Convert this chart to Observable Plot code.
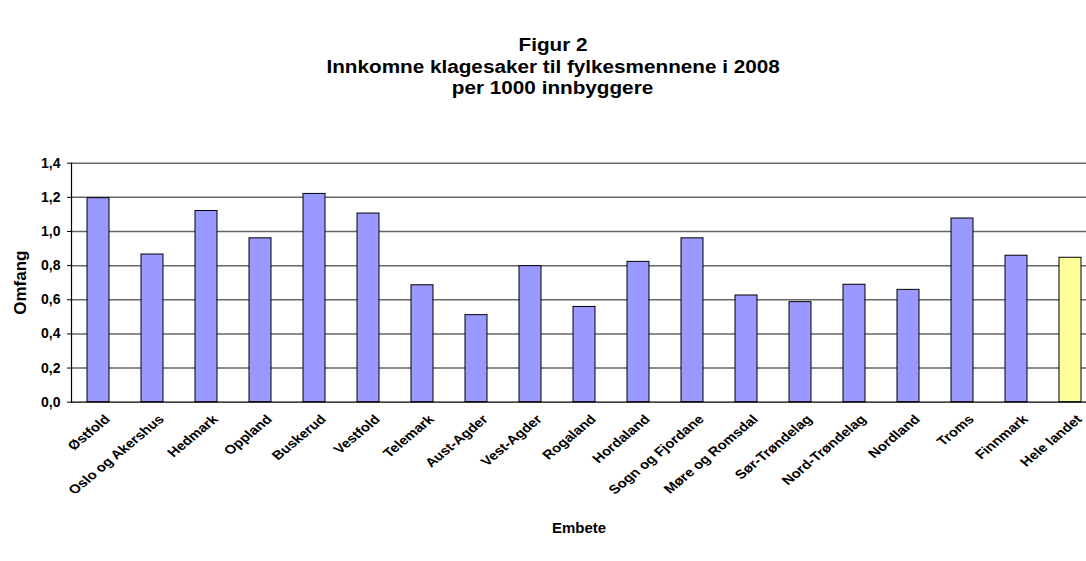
<!DOCTYPE html>
<html>
<head>
<meta charset="utf-8">
<script src="https://cdn.jsdelivr.net/npm/d3@7"></script>
<script src="https://cdn.jsdelivr.net/npm/@observablehq/plot@0.6"></script>
<style>
  html, body { margin: 0; padding: 0; background: #fff; overflow: hidden; }
  body { font-family: "Liberation Sans", Arial, sans-serif; width: 1086px; height: 561px; position: relative; }
  #title { position: relative; height: 100px; width: 1086px; }
  .tl { position: absolute; left: 0; width: 1106px; text-align: center; font-weight: bold; font-size: 18px; line-height: 18px; color: #000; white-space: nowrap; }
  .tl span { display: inline-block; transform: scaleX(1.15); transform-origin: center; }
  #chart svg { overflow: visible; display: block; }
</style>
</head>
<body>
<div id="title">
  <div class="tl" style="top:36px"><span>Figur 2</span></div>
  <div class="tl" style="top:58px"><span>Innkomne klagesaker til fylkesmennene i 2008</span></div>
  <div class="tl" style="top:79px"><span>per 1000 innbyggere</span></div>
</div>
<div id="chart"></div>
<script>
const categories = ["Østfold","Oslo og Akershus","Hedmark","Oppland","Buskerud","Vestfold","Telemark","Aust-Agder","Vest-Agder","Rogaland","Hordaland","Sogn og Fjordane","Møre og Romsdal","Sør-Trøndelag","Nord-Trøndelag","Nordland","Troms","Finnmark","Hele landet"];
const values = [1.195, 0.865, 1.12, 0.96, 1.22, 1.105, 0.685, 0.51, 0.797, 0.558, 0.822, 0.96, 0.625, 0.586, 0.688, 0.658, 1.076, 0.858, 0.846];
const yTicks = [0, 0.2, 0.4, 0.6, 0.8, 1.0, 1.2, 1.4];
const yLabel = "Omfang";
const xLabel = "Embete";
const totalCategory = "Hele landet";

const data = categories.map((c, i) => ({cat: c, val: values[i], total: c === totalCategory}));

const plot = Plot.plot({
  width: 1086,
  height: 461,
  marginTop: 62.7,
  marginBottom: 159.3,
  marginLeft: 71,
  marginRight: 0,
  style: {fontFamily: "'Liberation Sans', Arial, sans-serif", background: "white", color: "black", overflow: "visible"},
  x: {type: "band", domain: categories, range: [71, 1097], paddingInner: 0.6, paddingOuter: 0.3, axis: null},
  y: {domain: [0, 1.4], axis: null},
  marks: [
    Plot.ruleY(yTicks.filter(d => d > 0), {stroke: "#666", strokeWidth: 1.5}),
    Plot.barY(data, {x: "cat", y: "val", fill: d => d.total ? "#FFFF99" : "#9999FF", stroke: "black", strokeWidth: 1}),
    Plot.ruleY([0], {stroke: "black", strokeWidth: 1.2}),
    Plot.frame({anchor: "left", stroke: "black", strokeWidth: 1.2}),
    Plot.axisY({ticks: yTicks, tickSize: 4, tickPadding: 7, tickFormat: d => d.toFixed(1).replace(".", ","), fontSize: 14, fontWeight: "bold", label: null, stroke: "black"}),
    Plot.text(categories, {x: d => d, frameAnchor: "bottom", dx: 9, dy: 15, rotate: -45, textAnchor: "end", lineAnchor: "middle", fontSize: 12.5, fontWeight: "bold", fill: "black"}),
    Plot.text([yLabel], {frameAnchor: "left", dx: -51, rotate: -90, fontSize: 17, fontWeight: "bold", fill: "black", textAnchor: "middle", lineAnchor: "middle", letterSpacing: 2}),
    Plot.text([xLabel], {frameAnchor: "bottom", dy: 126.3, fontSize: 15, fontWeight: "bold", fill: "black", textAnchor: "middle", lineAnchor: "middle"})
  ]
});
// Category labels in the original are stretched horizontally after rotation
plot.querySelectorAll('g[aria-label="text"] text').forEach(t => {
  const tr = t.getAttribute("transform") || "";
  if (tr.includes("rotate(-45)")) t.setAttribute("transform", tr.replace("rotate(-45)", "scale(1.2,1) rotate(-45)"));
});
document.getElementById("chart").appendChild(plot);
</script>
</body>
</html>
